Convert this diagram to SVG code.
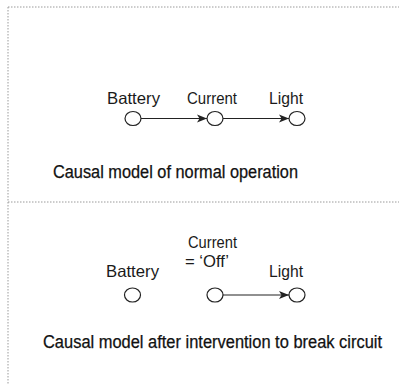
<svg xmlns="http://www.w3.org/2000/svg" width="399" height="385" viewBox="0 0 399 385">
<style>
.frame{stroke:#9a9a9a;stroke-width:1;stroke-dasharray:1.5 1.5;fill:none}
.node{fill:#fff;stroke:#222;stroke-width:1.2}
.lbl{font-family:"Liberation Sans",Arial,sans-serif;font-size:16.5px;fill:#1a1a1a}
.cap{font-family:"Liberation Sans",Arial,sans-serif;font-size:17.5px;fill:#111;stroke:#111;stroke-width:0.25}
.edge{stroke:#222;stroke-width:1.2;fill:none;marker-end:url(#ah)}
</style>
<defs>
<marker id="ah" viewBox="0 0 10 10" refX="10" refY="5" markerWidth="10" markerHeight="10" markerUnits="userSpaceOnUse" orient="auto">
<path d="M0,1 L10,5 L0,9 L2.5,5 Z" fill="#222"/>
</marker>
</defs>
<rect width="399" height="385" fill="#fff"/>
<g id="frame">
<line class="frame" x1="8" y1="7" x2="399" y2="7"/>
<line class="frame" x1="8" y1="7" x2="8" y2="385"/>
<line class="frame" x1="8" y1="202" x2="399" y2="202"/>
</g>
<g id="connectors">
<line class="edge" x1="141" y1="118.5" x2="207" y2="118.5"/>
<line class="edge" x1="223" y1="118.5" x2="289" y2="118.5"/>
<line class="edge" x1="223" y1="295" x2="289" y2="295"/>
</g>
<g id="top-battery">
<ellipse class="node" cx="133" cy="118.5" rx="8" ry="7"/>
<text class="lbl" x="107" y="104" textLength="53" lengthAdjust="spacingAndGlyphs">Battery</text>
</g>
<g id="top-current">
<ellipse class="node" cx="215" cy="118.5" rx="8" ry="7"/>
<text class="lbl" x="187" y="104" textLength="50" lengthAdjust="spacingAndGlyphs">Current</text>
</g>
<g id="top-light">
<ellipse class="node" cx="297" cy="118.5" rx="8" ry="7"/>
<text class="lbl" x="269" y="104" textLength="34" lengthAdjust="spacingAndGlyphs">Light</text>
</g>
<text class="cap" x="53" y="178" textLength="245" lengthAdjust="spacingAndGlyphs">Causal model of normal operation</text>
<g id="bottom-battery">
<ellipse class="node" cx="132.5" cy="295" rx="8" ry="7"/>
<text class="lbl" x="106" y="277" textLength="53" lengthAdjust="spacingAndGlyphs">Battery</text>
</g>
<g id="bottom-current">
<ellipse class="node" cx="215" cy="295" rx="8" ry="7"/>
<text class="lbl" x="188" y="248" textLength="49" lengthAdjust="spacingAndGlyphs">Current</text>
<text class="lbl" x="185" y="267" textLength="44" lengthAdjust="spacingAndGlyphs">= ‘Off’</text>
</g>
<g id="bottom-light">
<ellipse class="node" cx="297" cy="295" rx="8" ry="7"/>
<text class="lbl" x="269" y="277" textLength="34" lengthAdjust="spacingAndGlyphs">Light</text>
</g>
<text class="cap" x="43" y="348" textLength="339" lengthAdjust="spacingAndGlyphs">Causal model after intervention to break circuit</text>
</svg>
